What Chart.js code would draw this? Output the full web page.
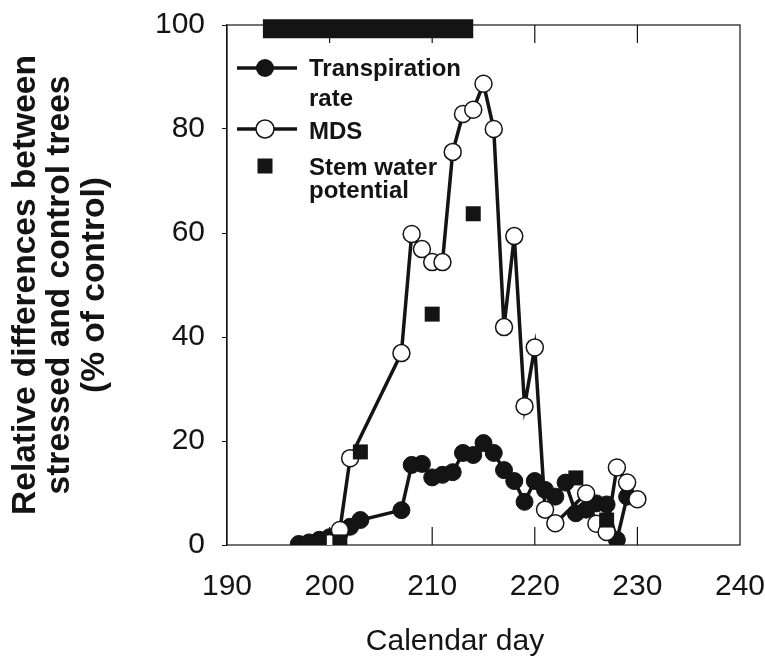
<!DOCTYPE html>
<html lang="en">
<head>
<meta charset="UTF-8">
<title>Relative differences between stressed and control trees</title>
<script src="https://cdn.jsdelivr.net/npm/chart.js"></script>
<style>
    html, body {
        margin: 0;
        padding: 0;
        background: #fff;
    }
    .chart-box {
        position: relative;
        width: 765px;
        height: 656px;
    }
</style>
</head>
<body>
<div class="chart-box"><canvas id="chart"></canvas></div>
<script>
// transpiration rate (filled circles)
const transpDays = [197, 198, 199, 200, 201, 202, 203, 207, 208, 209, 210, 211, 212, 213, 214, 215, 216, 217, 218, 219, 220, 221, 222, 223, 224, 225, 226, 227, 228, 229];
const transpValues = [0.2, 0.5, 1.0, 1.5, 2.3, 3.5, 4.8, 6.7, 15.4, 15.6, 13.0, 13.5, 14.0, 17.7, 17.3, 19.6, 17.7, 14.4, 12.3, 8.3, 12.3, 10.6, 9.3, 12.0, 6.1, 6.8, 8.0, 7.8, 1.0, 9.3];

// MDS (open circles)
const mdsDays = [200, 201, 202, 207, 208, 209, 210, 211, 212, 213, 214, 215, 216, 217, 218, 219, 220, 221, 222, 225, 226, 227, 228, 229, 230];
const mdsValues = [0.4, 2.9, 16.7, 36.9, 59.8, 56.9, 54.4, 54.4, 75.6, 82.9, 83.7, 88.7, 80.0, 41.9, 59.4, 26.7, 38.0, 6.8, 4.2, 9.9, 4.1, 2.5, 14.9, 12.0, 8.8];

// stem water potential (squares)
const swpDays = [199, 201, 203, 210, 214, 224, 227];
const swpValues = [0.3, 0.6, 17.9, 44.4, 63.7, 12.9, 4.8];

// black bar along the top: stress period
const stressDays = [193.5, 214];
const stressLevel = [99.3, 99.3];

const xMin = 190, xMax = 240, xStep = 10;
const yMin = 0, yMax = 100, yStep = 20;

const INK = '#141414';
const FONT = "'Liberation Sans', Arial, Helvetica, sans-serif";

function pts(xs, ys) {
    return xs.map((x, i) => ({ x: x, y: ys[i] }));
}

// frame box + inward x ticks on top and bottom
const framePlugin = {
    id: 'frame',
    beforeDatasetsDraw(chart) {
        const { ctx, chartArea: a, scales: { x } } = chart;
        ctx.save();
        ctx.strokeStyle = INK;
        ctx.lineWidth = 1.2;
        ctx.strokeRect(a.left, a.top, a.right - a.left, a.bottom - a.top);
        x.ticks.forEach(t => {
            if (t.value <= xMin || t.value >= xMax) return;
            const px = x.getPixelForValue(t.value);
            ctx.beginPath();
            ctx.moveTo(px, a.bottom);
            ctx.lineTo(px, a.bottom - 18);
            ctx.moveTo(px, a.top);
            ctx.lineTo(px, a.top + 18);
            ctx.stroke();
        });
        ctx.restore();
    }
};

// legend inside the plot, and the x axis title
const legendPlugin = {
    id: 'insideLegend',
    afterDraw(chart) {
        const ctx = chart.ctx;
        ctx.save();
        ctx.strokeStyle = INK;
        ctx.fillStyle = INK;
        ctx.lineWidth = 3.5;

        // Transpiration rate
        ctx.beginPath();
        ctx.moveTo(237, 68); ctx.lineTo(297, 68);
        ctx.stroke();
        ctx.beginPath();
        ctx.arc(265, 68, 9, 0, Math.PI * 2);
        ctx.fill();

        // MDS
        ctx.beginPath();
        ctx.moveTo(237, 129); ctx.lineTo(297, 129);
        ctx.stroke();
        ctx.beginPath();
        ctx.arc(265, 129, 9, 0, Math.PI * 2);
        ctx.fillStyle = '#fff';
        ctx.fill();
        ctx.lineWidth = 1.5;
        ctx.stroke();

        // Stem water potential
        ctx.fillStyle = INK;
        ctx.fillRect(257.5, 158.5, 15, 15);

        ctx.font = 'bold 24px ' + FONT;
        ctx.textAlign = 'left';
        ctx.textBaseline = 'alphabetic';
        ctx.fillText('Transpiration', 309, 76);
        ctx.fillText('rate', 309, 106);
        ctx.fillText('MDS', 309, 139);
        ctx.fillText('Stem water', 309, 175);
        ctx.fillText('potential', 309, 198);

        ctx.font = '30px ' + FONT;
        ctx.textAlign = 'center';
        ctx.fillText('Calendar day', 455, 650);
        ctx.restore();
    }
};

const ctx = document.getElementById('chart').getContext('2d');
const chart = new Chart(ctx, {
    type: 'line',
    data: {
        datasets: [
            {
                label: 'Stem water potential',
                data: pts(swpDays, swpValues),
                showLine: false,
                pointStyle: 'rect',
                pointRadius: 10.6,
                pointBackgroundColor: INK,
                pointBorderColor: INK,
                pointBorderWidth: 0,
                order: 0
            },
            {
                label: 'MDS',
                data: pts(mdsDays, mdsValues),
                borderColor: INK,
                borderWidth: 3.5,
                tension: 0,
                pointStyle: 'circle',
                pointRadius: 8.5,
                pointBackgroundColor: '#fff',
                pointBorderColor: INK,
                pointBorderWidth: 1.5,
                order: 1
            },
            {
                label: 'Transpiration rate',
                data: pts(transpDays, transpValues),
                borderColor: INK,
                borderWidth: 3.5,
                tension: 0,
                pointStyle: 'circle',
                pointRadius: 8.5,
                pointBackgroundColor: INK,
                pointBorderColor: INK,
                pointBorderWidth: 1,
                order: 2
            },
            {
                label: 'Stress period',
                data: pts(stressDays, stressLevel),
                borderColor: INK,
                borderWidth: 19,
                borderCapStyle: 'butt',
                pointRadius: 0,
                clip: false,
                order: 3
            }
        ]
    },
    options: {
        responsive: true,
        maintainAspectRatio: false,
        animation: false,
        layout: {
            padding: { top: 25, right: 25, left: 0, bottom: 0 }
        },
        plugins: {
            legend: { display: false },
            tooltip: { enabled: false }
        },
        scales: {
            x: {
                type: 'linear',
                min: xMin,
                max: xMax,
                afterFit: s => {
                    s.height = 111;
                    s.paddingLeft = 0;
                    s.paddingRight = 0;
                },
                grid: { display: false },
                border: { display: false },
                ticks: {
                    stepSize: xStep,
                    padding: 16,
                    color: INK,
                    font: { family: FONT, size: 30 },
                    maxRotation: 0
                }
            },
            y: {
                min: yMin,
                max: yMax,
                afterFit: s => {
                    s.width = 227;
                    s.paddingTop = 0;
                    s.paddingBottom = 0;
                },
                grid: {
                    drawOnChartArea: false,
                    drawTicks: true,
                    tickLength: 5,
                    color: INK
                },
                border: { display: true, color: INK, width: 1.2 },
                ticks: {
                    stepSize: yStep,
                    padding: 17,
                    color: INK,
                    font: { family: FONT, size: 30 }
                },
                title: {
                    display: true,
                    text: ['Relative differences between', 'stressed and control trees', '(% of control)'],
                    color: INK,
                    font: { family: FONT, size: 33.5, weight: 'bold', lineHeight: 1.04 },
                    padding: { top: 8, bottom: 0 }
                }
            }
        }
    },
    plugins: [framePlugin, legendPlugin]
});
</script>
</body>
</html>
